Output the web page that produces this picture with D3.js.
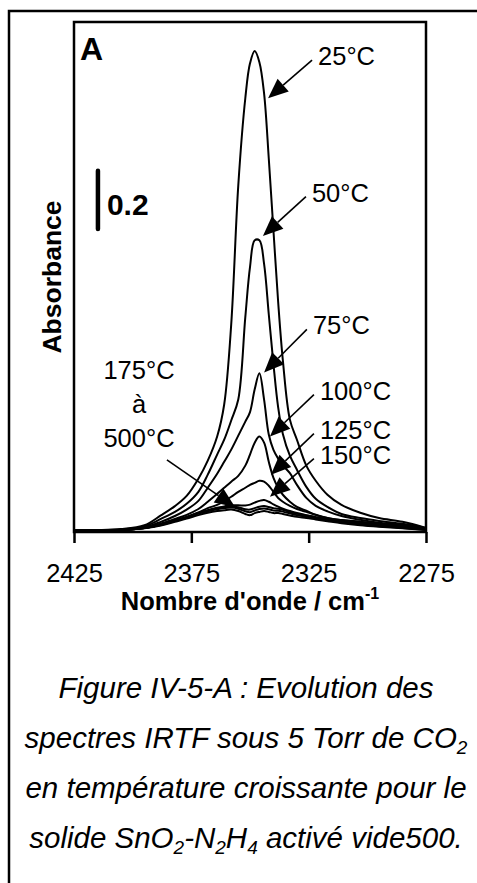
<!DOCTYPE html>
<html lang="fr">
<head>
<meta charset="UTF-8">
<title>Figure IV-5-A</title>
<script src="https://d3js.org/d3.v7.min.js"></script>
<style>
    body { margin: 0; background: #fff; }
    svg { display: block; font-family: "Liberation Sans", Arial, sans-serif; }
</style>
</head>
<body>
<svg id="chart" width="477" height="883"></svg>
<script>
    // wavenumber grid (cm-1), shared by every spectrum
    const wavenumbers = [2425, 2415, 2405, 2395, 2388, 2382, 2377, 2372, 2368, 2364, 2361, 2358, 2355, 2352, 2350, 2348,
                         2346, 2344, 2342, 2340, 2338, 2336, 2333, 2330, 2326, 2322, 2317, 2311, 2303, 2295, 2285, 2275];

    // absorbance, one array per temperature
    const abs25  = [0.000, 0.000, 0.003, 0.016, 0.050, 0.082, 0.117, 0.176, 0.238, 0.321, 0.431, 0.707, 1.183, 1.483, 1.603, 1.645,
                    1.607, 1.500, 1.276, 1.028, 0.783, 0.583, 0.379, 0.310, 0.221, 0.169, 0.121, 0.086, 0.059, 0.041, 0.028, 0.007];
    const abs50  = [0.000, 0.000, 0.002, 0.012, 0.038, 0.062, 0.090, 0.131, 0.190, 0.259, 0.310, 0.376, 0.448, 0.731, 0.903, 0.995,
                    0.995, 0.914, 0.741, 0.569, 0.421, 0.330, 0.255, 0.207, 0.148, 0.107, 0.079, 0.055, 0.041, 0.031, 0.021, 0.007];
    const abs75  = [0.000, 0.000, 0.000, 0.009, 0.028, 0.048, 0.070, 0.100, 0.145, 0.193, 0.234, 0.276, 0.324, 0.372, 0.405, 0.483,
                    0.538, 0.448, 0.328, 0.275, 0.245, 0.222, 0.195, 0.155, 0.110, 0.083, 0.064, 0.048, 0.035, 0.025, 0.017, 0.004];
    const abs100 = [0.000, 0.000, 0.000, 0.008, 0.022, 0.038, 0.052, 0.072, 0.097, 0.124, 0.145, 0.166, 0.186, 0.221, 0.259, 0.300,
                    0.321, 0.300, 0.234, 0.179, 0.145, 0.121, 0.097, 0.079, 0.066, 0.052, 0.041, 0.034, 0.028, 0.021, 0.014, 0.003];
    const abs125 = [0.000, 0.000, 0.000, 0.007, 0.019, 0.033, 0.045, 0.060, 0.075, 0.086, 0.099, 0.114, 0.131, 0.145, 0.155, 0.162,
                    0.169, 0.166, 0.152, 0.131, 0.110, 0.097, 0.083, 0.072, 0.062, 0.052, 0.041, 0.034, 0.028, 0.021, 0.014, 0.003];
    const abs150 = [0.000, 0.000, 0.000, 0.007, 0.018, 0.032, 0.044, 0.058, 0.068, 0.076, 0.081, 0.085, 0.085, 0.084, 0.087, 0.094,
                    0.100, 0.103, 0.097, 0.088, 0.080, 0.073, 0.065, 0.058, 0.051, 0.044, 0.036, 0.029, 0.024, 0.018, 0.010, 0.002];
    const abs175 = [0.000, 0.000, 0.000, 0.007, 0.018, 0.032, 0.044, 0.058, 0.067, 0.075, 0.079, 0.081, 0.078, 0.071, 0.070, 0.075,
                    0.080, 0.082, 0.079, 0.075, 0.073, 0.069, 0.062, 0.056, 0.050, 0.044, 0.036, 0.028, 0.020, 0.014, 0.008, 0.002];
    const abs300 = [0.000, 0.000, 0.000, 0.007, 0.017, 0.031, 0.042, 0.056, 0.064, 0.071, 0.075, 0.077, 0.073, 0.064, 0.061, 0.067,
                    0.072, 0.074, 0.071, 0.067, 0.066, 0.063, 0.057, 0.051, 0.046, 0.040, 0.033, 0.026, 0.018, 0.013, 0.007, 0.001];
    const abs500 = [0.000, 0.000, 0.000, 0.006, 0.015, 0.028, 0.039, 0.051, 0.059, 0.065, 0.068, 0.070, 0.065, 0.055, 0.051, 0.058,
                    0.062, 0.065, 0.062, 0.058, 0.058, 0.055, 0.050, 0.045, 0.041, 0.036, 0.030, 0.023, 0.016, 0.011, 0.006, 0.000];
    const spectra = [abs25, abs50, abs75, abs100, abs125, abs150, abs175, abs300, abs500];

    const xTicks = [2425, 2375, 2325, 2275];

    // temperature labels: text anchor and arrow tip, in data units
    const tempLabels = [
        {text: '25°C',  w: 2321.0, a: 1.597, tipW: 2342.3, tipA: 1.483},
        {text: '50°C',  w: 2323.6, a: 1.128, tipW: 2344.5, tipA: 1.010},
        {text: '75°C',  w: 2323.2, a: 0.672, tipW: 2344.0, tipA: 0.541},
        {text: '100°C', w: 2320.2, a: 0.448, tipW: 2341.5, tipA: 0.321},
        {text: '125°C', w: 2320.2, a: 0.314, tipW: 2341.1, tipA: 0.190},
        {text: '150°C', w: 2320.2, a: 0.228, tipW: 2341.5, tipA: 0.114},
    ];
    const rangeLabel = {lines: ['175°C', 'à', '500°C'], w: 2397.3, a: [0.517, 0.403, 0.286],
                        tailW: 2385.4, tailA: 0.241, tipW: 2356.4, tipA: 0.079};

    const caption = [
        [['Figure IV-5-A : Evolution des']],
        [['spectres IRTF sous 5 Torr de CO'], ['2', 'sub']],
        [['en température croissante pour le']],
        [['solide SnO'], ['2', 'sub'], ['-N'], ['2', 'sub'], ['H'], ['4', 'sub'], [' activé vide500.']],
    ];

    const svg = d3.select('#chart');

    // outer frame (only top and left sides fall inside the picture)
    svg.append('rect')
        .attr('x', 9).attr('y', 11)
        .attr('width', 520).attr('height', 920)
        .attr('fill', 'none')
        .attr('stroke', 'black')
        .attr('stroke-width', 2.5);

    // scales
    const plot = {left: 74, right: 426, top: 22, bottom: 532};
    const x = d3.scaleLinear().domain([2425, 2275]).range([plot.left, plot.right]);
    const y = d3.scaleLinear().domain([-0.007, 1.745]).range([plot.bottom, plot.top]);

    // spectra
    const line = d3.line()
        .x((d, i) => x(wavenumbers[i]))
        .y(d => y(d))
        .curve(d3.curveCatmullRom.alpha(0.5));

    svg.append('g')
        .selectAll('path')
        .data(spectra)
        .join('path')
        .attr('d', line)
        .attr('fill', 'none')
        .attr('stroke', 'black')
        .attr('stroke-width', 2)
        .attr('stroke-linejoin', 'round');

    // plot box
    svg.append('rect')
        .attr('x', plot.left).attr('y', plot.top)
        .attr('width', plot.right - plot.left)
        .attr('height', plot.bottom - plot.top)
        .attr('fill', 'none')
        .attr('stroke', 'black')
        .attr('stroke-width', 2.5);

    // x axis ticks and labels
    const xAxis = svg.append('g')
        .attr('transform', `translate(0,${plot.bottom})`)
        .call(d3.axisBottom(x).tickValues(xTicks).tickFormat(d3.format('d'))
            .tickSize(11).tickSizeOuter(0).tickPadding(21));
    xAxis.select('.domain').remove();
    xAxis.selectAll('line').attr('stroke', 'black').attr('stroke-width', 2.5);
    xAxis.selectAll('text')
        .attr('font-family', '"Liberation Sans", Arial, sans-serif')
        .attr('font-size', 25.5)
        .attr('fill', 'black');

    // axis titles
    const xTitle = svg.append('text')
        .attr('x', 250).attr('y', 610)
        .attr('text-anchor', 'middle')
        .attr('font-size', 25.5)
        .attr('font-weight', 'bold')
        .text("Nombre d'onde / cm");
    xTitle.append('tspan')
        .attr('dy', -11)
        .attr('font-size', 16)
        .text('-1');

    svg.append('text')
        .attr('transform', 'translate(61,277) rotate(-90)')
        .attr('text-anchor', 'middle')
        .attr('font-size', 26.5)
        .attr('font-weight', 'bold')
        .text('Absorbance');

    // panel letter
    svg.append('text')
        .attr('x', 80).attr('y', 60)
        .attr('font-size', 32)
        .attr('font-weight', 'bold')
        .text('A');

    // 0.2 absorbance scale bar
    const barW = 2414.8, barA = 1.034;
    svg.append('line')
        .attr('x1', x(barW)).attr('x2', x(barW))
        .attr('y1', y(barA)).attr('y2', y(barA + 0.2))
        .attr('stroke', 'black')
        .attr('stroke-width', 4.5)
        .attr('stroke-linecap', 'round');
    svg.append('text')
        .attr('x', x(barW) + 9).attr('y', y(barA) - 14)
        .attr('font-size', 30)
        .attr('font-weight', 'bold')
        .text('0.2');

    // arrow with a filled head
    function arrow(x1, y1, x2, y2) {
        const ang = Math.atan2(y2 - y1, x2 - x1);
        const len = 20, half = 8.5;
        const bx = x2 - len * Math.cos(ang);
        const by = y2 - len * Math.sin(ang);
        svg.append('line')
            .attr('x1', x1).attr('y1', y1)
            .attr('x2', bx).attr('y2', by)
            .attr('stroke', 'black')
            .attr('stroke-width', 1.6);
        svg.append('path')
            .attr('d', `M${x2},${y2}L${bx + half * Math.sin(ang)},${by - half * Math.cos(ang)}`
                     + `L${bx - half * Math.sin(ang)},${by + half * Math.cos(ang)}Z`)
            .attr('fill', 'black');
    }

    tempLabels.forEach(l => {
        svg.append('text')
            .attr('x', x(l.w)).attr('y', y(l.a))
            .attr('font-size', 25.5)
            .text(l.text);
        arrow(x(l.w) - 6, y(l.a) - 5, x(l.tipW), y(l.tipA));
    });

    rangeLabel.lines.forEach((t, i) => {
        svg.append('text')
            .attr('x', x(rangeLabel.w)).attr('y', y(rangeLabel.a[i]))
            .attr('text-anchor', 'middle')
            .attr('font-size', 25.5)
            .text(t);
    });
    arrow(x(rangeLabel.tailW), y(rangeLabel.tailA), x(rangeLabel.tipW), y(rangeLabel.tipA));

    // figure caption
    caption.forEach((parts, i) => {
        const t = svg.append('text')
            .attr('x', 246).attr('y', 698 + i * 50)
            .attr('text-anchor', 'middle')
            .attr('font-size', 29.5)
            .attr('font-style', 'italic');
        let shifted = false;
        parts.forEach(p => {
            const ts = t.append('tspan').text(p[0]);
            if (p[1] === 'sub') {
                ts.attr('font-size', 19).attr('dy', 6);
                shifted = true;
            } else if (shifted) {
                ts.attr('dy', -6);
                shifted = false;
            }
        });
    });
</script>
</body>
</html>
